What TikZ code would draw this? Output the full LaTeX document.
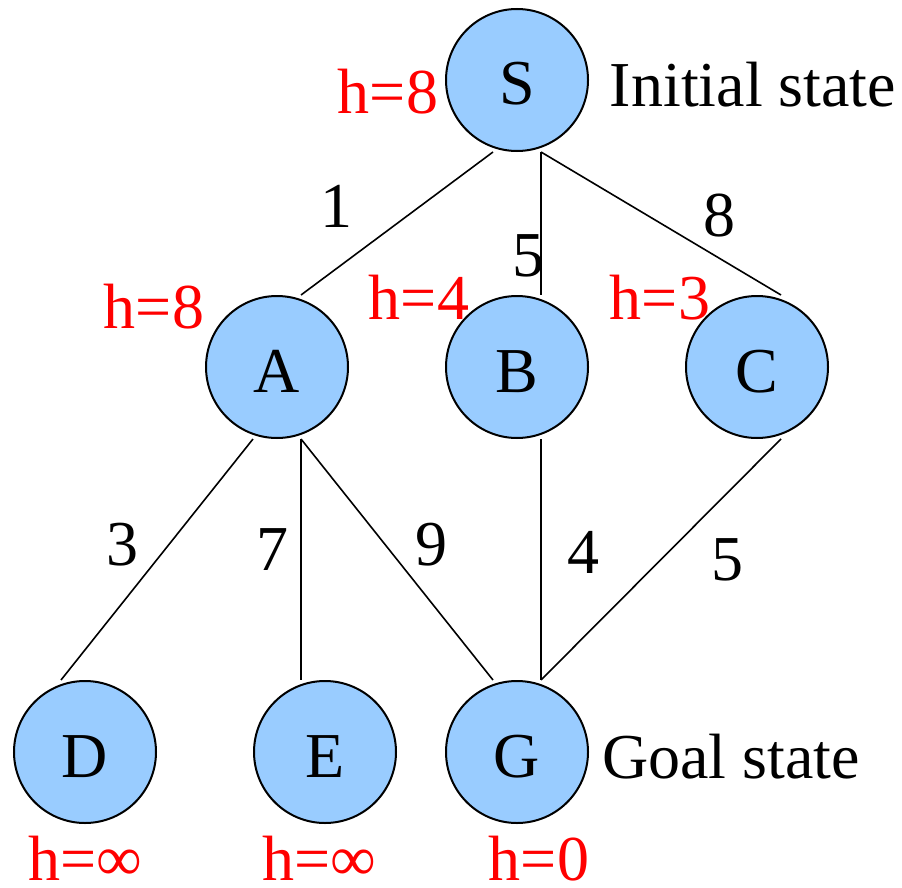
\documentclass[tikz,border=0pt]{standalone}
\usepackage{fontspec}
\setmainfont{Liberation Serif}
\usetikzlibrary{calc}
\definecolor{nodeblue}{HTML}{99CCFF}
\tikzset{
  state/.style={circle, draw=black, line width=2pt, fill=nodeblue, minimum size=142pt, inner sep=0pt,
    font=\fontsize{64}{76}\selectfont, text height=50pt, text depth=0pt},
  edge/.style={draw=black, line width=1.6pt},
  hval/.style={anchor=base, inner sep=0pt, text=red, font=\fontsize{64}{76}\selectfont},
  cost/.style={anchor=base, inner sep=0pt, text=black, font=\fontsize{64}{76}\selectfont},
  caption/.style={anchor=base, inner sep=0pt, text=black, font=\fontsize{64}{76}\selectfont}
}
\begin{document}
\begin{tikzpicture}[x=1pt, y=-1pt]
\useasboundingbox (0,0) rectangle (902,888);
% states
\node[state] (S) at (517,80) {S};
\node[state] (A) at (277,367) {A};
\node[state] (B) at (517,367) {B};
\node[state] (C) at (757,367) {C};
\node[state] (D) at (85,752) {D};
\node[state] (E) at (325,752) {E};
\node[state] (G) at (517,752) {G};
% edges
\draw[edge] ($(S.south)+(-24,0)$) -- ($(A.north)+(24,0)$);
\draw[edge] ($(S.south)+(24,0)$) -- ($(B.north)+(24,0)$);
\draw[edge] ($(S.south)+(24,0)$) -- ($(C.north)+(24,0)$);
\draw[edge] ($(A.south)+(-24,0)$) -- ($(D.north)+(-24,0)$);
\draw[edge] ($(A.south)+(24,0)$) -- ($(E.north)+(-24,0)$);
\draw[edge] ($(A.south)+(24,0)$) -- ($(G.north)+(-24,0)$);
\draw[edge] ($(B.south)+(24,0)$) -- ($(G.north)+(24,0)$);
\draw[edge] ($(C.south)+(24,0)$) -- ($(G.north)+(24,0)$);
% edge costs
\node[cost] (cSA) at (336,227) {1};
\node[cost] (cSB) at (528,276) {5};
\node[cost] (cSC) at (719,236) {8};
\node[cost] (cAD) at (122,565) {3};
\node[cost] (cAE) at (272,570) {7};
\node[cost] (cAG) at (431,565) {9};
\node[cost] (cBG) at (583,573) {4};
\node[cost] (cCG) at (727,580) {5};
% heuristic values
\node[hval] (hS) at (388,114) {h=8};
\node[hval] (hA) at (154,328) {h=8};
\node[hval] (hB) at (419,319) {h=4};
\node[hval] (hC) at (660,319) {h=3};
\node[hval] (hD) at (85,880) {h=∞};
\node[hval] (hE) at (319,880) {h=∞};
\node[hval] (hG) at (539,880) {h=0};
% captions
\node[caption] (init) at (753,107) {Initial state};
\node[caption] (goal) at (731,778) {Goal state};
\end{tikzpicture}
\end{document}
